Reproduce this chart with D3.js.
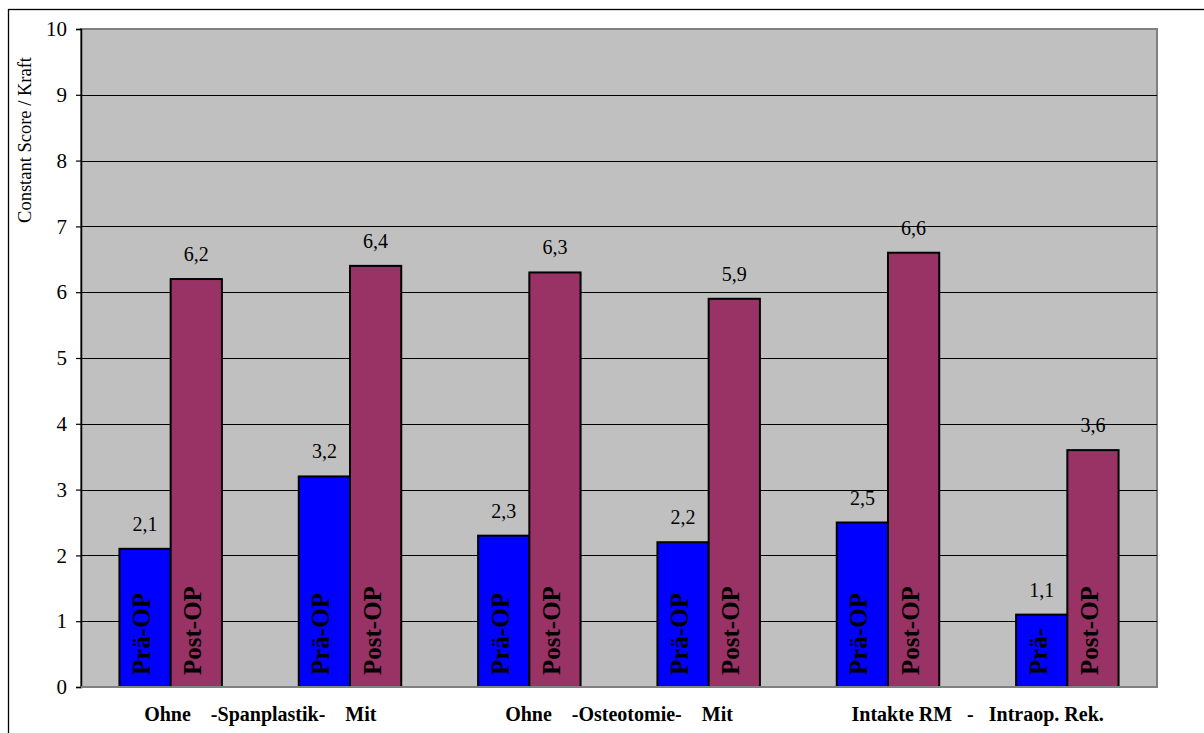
<!DOCTYPE html>
<html>
<head>
<meta charset="utf-8">
<script src="https://cdn.jsdelivr.net/npm/d3@7"></script>
<style>
  html, body { margin: 0; padding: 0; background: #ffffff; }
  svg { display: block; }
</style>
</head>
<body>
<svg id="chart" width="1204" height="733"></svg>
<script>
// Groups: operation without/with bone graft, osteotomy, rotator cuff status
const categories = ["Ohne Spanplastik", "Mit Spanplastik", "Ohne Osteotomie", "Mit Osteotomie", "Intakte RM", "Intraop. Rek."];
const preOp  = [2.1, 3.2, 2.3, 2.2, 2.5, 1.1];
const postOp = [6.2, 6.4, 6.3, 5.9, 6.6, 3.6];
const preLabels  = ["Prä-OP", "Prä-OP", "Prä-OP", "Prä-OP", "Prä-OP", "Prä-"];
const postLabels = ["Post-OP", "Post-OP", "Post-OP", "Post-OP", "Post-OP", "Post-OP"];
const pairLabels = ["Ohne    -Spanplastik-    Mit", "Ohne    -Osteotomie-    Mit", "Intakte RM   -   Intraop. Rek."];
const yTicks = [0, 1, 2, 3, 4, 5, 6, 7, 8, 9, 10];
const yTitle = "Constant Score / Kraft";

const SERIF = '"Liberation Serif", "Times New Roman", Times, serif';

const svg = d3.select("#chart");
const plot = { left: 81, right: 1157, top: 29, bottom: 687 };

// outer chart frame
svg.append("rect")
  .attr("x", 8.5).attr("y", 9.5)
  .attr("width", 1200).attr("height", 730)
  .attr("fill", "#fff").attr("stroke", "#000").attr("stroke-width", 1.3);

const x = d3.scaleBand().domain(categories).range([plot.left, plot.right]).padding(0);
const y = d3.scaleLinear().domain([0, 10]).range([plot.bottom, plot.top]);

// bar geometry: two bars per category, gap = 150% of bar width
const barW = x.bandwidth() / 3.5;
const inner = d3.scaleBand().domain(["pre", "post"]).range([0, barW * 2]).padding(0);
const offset = barW * 0.75;

// plot area
svg.append("rect")
  .attr("x", plot.left).attr("y", plot.top)
  .attr("width", plot.right - plot.left).attr("height", plot.bottom - plot.top)
  .attr("fill", "#C0C0C0").attr("stroke", "#808080").attr("stroke-width", 2);

// gridlines
svg.append("g").selectAll("line")
  .data(yTicks.filter(d => d > 0 && d < 10))
  .join("line")
  .attr("x1", plot.left).attr("x2", plot.right)
  .attr("y1", d => Math.round(y(d)) + 0.5).attr("y2", d => Math.round(y(d)) + 0.5)
  .attr("stroke", "#000").attr("stroke-width", 1);

// y axis
const yAxis = d3.axisLeft(y).tickValues(yTicks).tickSize(5).tickPadding(9).tickFormat(d3.format("d"));
const gy = svg.append("g").attr("transform", `translate(${plot.left},0)`).call(yAxis);
gy.attr("font-family", SERIF).attr("font-size", 21);
gy.select(".domain").attr("stroke", "#000").attr("stroke-width", 1.5);
gy.selectAll(".tick line").attr("stroke", "#000").attr("stroke-width", 1.2);
gy.selectAll(".tick text").attr("fill", "#000");

// y title
svg.append("text")
  .attr("transform", `translate(31,57) rotate(-90)`)
  .attr("text-anchor", "end")
  .attr("font-size", 18.5)
  .text(yTitle);

const series = [
  { key: "pre", values: preOp, labels: preLabels, color: "#0000FF" },
  { key: "post", values: postOp, labels: postLabels, color: "#993366" }
];

const fmt = v => d3.format(".1f")(v).replace(".", ",");

series.forEach(s => {
  const g = svg.append("g");
  const items = categories.map((c, i) => ({ c, v: s.values[i], label: s.labels[i] }));
  const bx = d => x(d.c) + offset + inner(s.key);

  g.selectAll("rect")
    .data(items)
    .join("rect")
    .attr("x", bx)
    .attr("y", d => y(d.v))
    .attr("width", inner.bandwidth())
    .attr("height", d => y(0) - y(d.v))
    .attr("fill", s.color)
    .attr("stroke", "#000")
    .attr("stroke-width", 2);

  // value above each bar
  g.selectAll("text.value")
    .data(items)
    .join("text")
    .attr("class", "value")
    .attr("x", d => bx(d) + inner.bandwidth() / 2)
    .attr("y", d => y(d.v) - 18)
    .attr("text-anchor", "middle")
    .attr("font-size", 20)
    .text(d => fmt(d.v));

  // series name written up the bar
  g.selectAll("text.inside")
    .data(items)
    .join("text")
    .attr("class", "inside")
    .attr("transform", d => `translate(${bx(d) + inner.bandwidth() / 2 + 5},${y(0) - 12}) rotate(-90)`)
    .attr("font-size", 25)
    .attr("font-weight", "bold")
    .text(d => d.label);
});

// bottom axis line
svg.append("line")
  .attr("x1", plot.left).attr("x2", plot.right)
  .attr("y1", plot.bottom).attr("y2", plot.bottom)
  .attr("stroke", "#808080").attr("stroke-width", 2);

// category pair captions
svg.append("g").selectAll("text")
  .data(pairLabels)
  .join("text")
  .attr("x", (d, i) => (x(categories[2 * i]) + x(categories[2 * i + 1]) + x.bandwidth()) / 2)
  .attr("y", 721)
  .attr("text-anchor", "middle")
  .attr("font-size", 20)
  .attr("font-weight", "bold")
  .style("white-space", "pre")
  .text(d => d);

// serif face for every label
svg.selectAll("text").style("font-family", SERIF).attr("fill", "#000");
</script>
</body>
</html>
